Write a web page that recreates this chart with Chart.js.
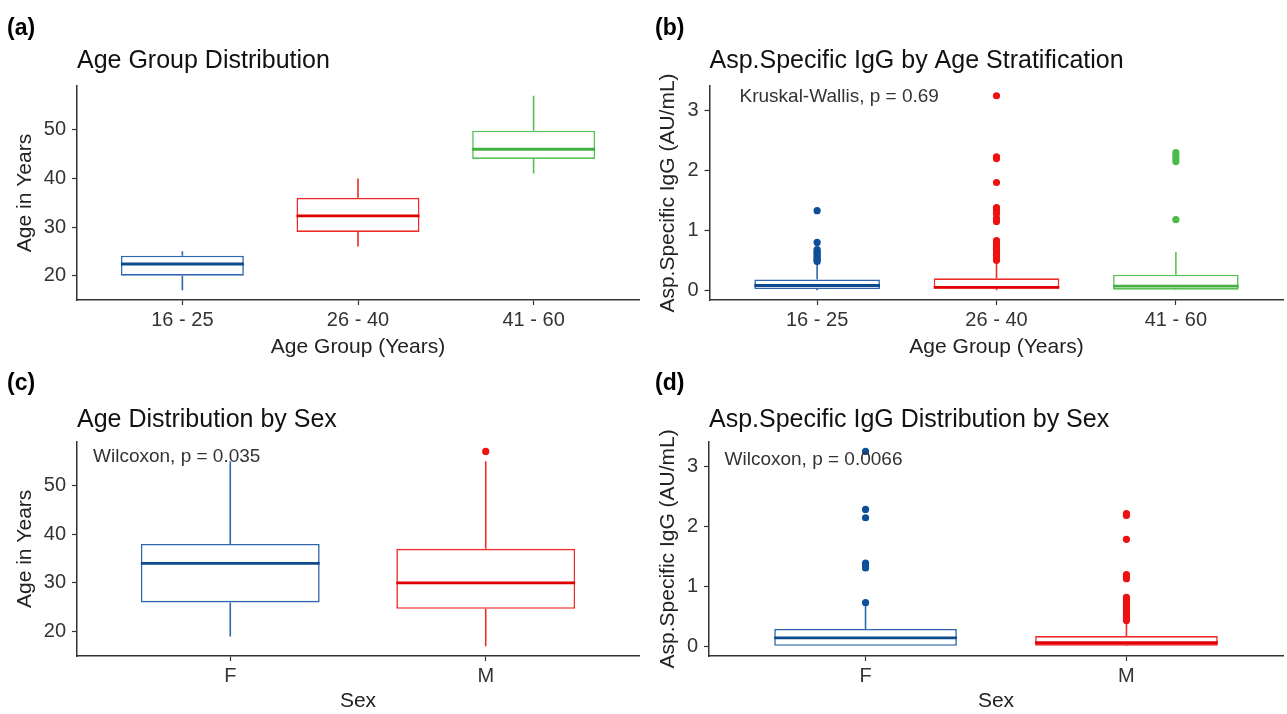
<!DOCTYPE html>
<html><head><meta charset="utf-8">
<script src="https://cdn.jsdelivr.net/npm/chart.js@4.4.1/dist/chart.umd.min.js"></script>
<style>
html,body{margin:0;padding:0;background:#fff;}
body{width:1287px;height:714px;position:relative;overflow:hidden;}
canvas{position:absolute;}
</style></head><body>
<canvas id="ca" width="643" height="360" style="left:0;top:0"></canvas>
<canvas id="cb" width="644" height="360" style="left:643px;top:0"></canvas>
<canvas id="cc" width="643" height="354" style="left:0;top:360px"></canvas>
<canvas id="cd" width="644" height="354" style="left:643px;top:360px"></canvas>
<script>
// ---------- DATA ----------
const ageGroups = ['16 - 25', '26 - 40', '41 - 60'];
const sexes = ['F', 'M'];
const ageTicks = [20, 30, 40, 50];
const iggTicks = [0, 1, 2, 3];

// (a) Age by age group
const ageGrpMin    = [17, 26, 41];
const ageGrpQ1     = [20, 29, 44];
const ageGrpMedian = [22.4, 32.3, 46];
const ageGrpQ3     = [24.1, 36, 49.8];
const ageGrpMax    = [25, 40, 57];
const ageGrpOutliers = [[], [], []];

// (b) IgG by age group
const iggGrpMin    = [0, 0, 0];
const iggGrpQ1     = [0.02, 0.03, 0.01];
const iggGrpMedian = [0.08, 0.05, 0.07];
const iggGrpQ3     = [0.18, 0.20, 0.26];
const iggGrpMax    = [0.43, 0.45, 0.64];
const iggGrpOut1625 = [1.33, 0.80, 0.68, 0.65, 0.62, 0.59, 0.56, 0.53, 0.50, 0.48];
const iggGrpOut2640 = [3.25, 2.23, 2.20, 1.80, 1.38, 1.33, 1.28, 1.20, 1.15, 0.83, 0.79, 0.75, 0.70, 0.66, 0.62, 0.58, 0.54, 0.50];
const iggGrpOut4160 = [2.30, 2.26, 2.20, 2.15, 1.18];

// (c) Age by sex
const ageSexMin    = [19, 17];
const ageSexQ1     = [26, 24.7];
const ageSexMedian = [34, 30];
const ageSexQ3     = [38, 37];
const ageSexMax    = [55, 55];
const ageSexOutF = [];
const ageSexOutM = [57];

// (d) IgG by sex
const iggSexMin    = [0, 0];
const iggSexQ1     = [0, 0.01];
const iggSexMedian = [0.14, 0.06];
const iggSexQ3     = [0.29, 0.17];
const iggSexMax    = [0.72, 0.41];
const iggSexOutF = [3.26, 2.29, 2.15, 1.39, 1.35, 1.31, 0.73];
const iggSexOutM = [2.22, 2.19, 1.79, 1.20, 1.16, 1.13, 0.82, 0.78, 0.74, 0.70, 0.66, 0.62, 0.58, 0.54, 0.50, 0.46, 0.43];

// ---------- STYLE ----------
const FONT = "'Liberation Sans', Arial, Helvetica, sans-serif";
Chart.defaults.font.family = FONT;
const BLUE  = {box: '#2e66ad', med: '#0d4a8e', pt: '#0d4f98'};
const RED   = {box: '#ee2a2a', med: '#e00000', pt: '#ee1111'};
const GREEN = {box: '#57c054', med: '#43b043', pt: '#4cbb4a'};
const BOX_W = 0.7;

const panelText = {
  id: 'panelText',
  afterDraw(chart, args, o) {
    const ctx = chart.ctx;
    ctx.save();
    ctx.textBaseline = 'middle';
    ctx.textAlign = 'left';
    ctx.fillStyle = '#000';
    ctx.font = 'bold 23px ' + FONT;
    ctx.fillText(o.label, o.labelX, o.labelY);
    if (o.note) {
      ctx.font = '19px ' + FONT;
      ctx.fillStyle = '#333';
      ctx.fillText(o.note, chart.chartArea.left + o.noteDX, chart.chartArea.top + o.noteDY);
    }
    ctx.restore();
  }
};

function boxDatasets(n, s, colors) {
  const ds = [];
  const idx = [...Array(n).keys()];
  ds.push({
    type: 'bar',
    data: idx.map(i => ({x: i, y: [s.q1[i], s.q3[i]]})),
    backgroundColor: '#ffffff',
    borderColor: colors.map(c => c.box),
    borderWidth: 1.6,
    borderSkipped: false,
    categoryPercentage: 1,
    barPercentage: BOX_W,
    order: 4
  });
  idx.forEach(i => {
    ds.push({
      type: 'line',
      data: [{x: i, y: s.q3[i]}, {x: i, y: s.max[i]}, {x: i, y: null}, {x: i, y: s.q1[i]}, {x: i, y: s.min[i]}],
      borderColor: colors[i].box, borderWidth: 1.6, pointRadius: 0, spanGaps: false, tension: 0, order: 3
    });
    ds.push({
      type: 'line',
      data: [{x: i - BOX_W / 2, y: s.med[i]}, {x: i + BOX_W / 2, y: s.med[i]}],
      borderColor: colors[i].med, borderWidth: 2.8, pointRadius: 0, tension: 0, order: 2
    });
    if (s.out[i].length) {
      ds.push({
        type: 'scatter',
        data: s.out[i].map(v => ({x: i, y: v})),
        backgroundColor: colors[i].pt, borderWidth: 0, pointRadius: 3.6, order: 1
      });
    }
  });
  return ds;
}

function makePanel(p) {
  const n = p.cats.length;
  const xTickVals = [...Array(n).keys()];
  new Chart(document.getElementById(p.id), {
    type: 'bar',
    data: {datasets: boxDatasets(n, p.stats, p.colors)},
    plugins: [panelText],
    options: {
      responsive: false,
      devicePixelRatio: 1,
      animation: false,
      events: [],
      layout: {autoPadding: false, padding: {left: 0, top: 0, bottom: 0, right: p.padRight}},
      plugins: {
        legend: {display: false},
        tooltip: {enabled: false},
        title: {
          display: true, text: p.title, align: 'start', fullSize: false,
          color: '#111', font: {size: 25, weight: 'normal'},
          padding: {top: p.titleTop, bottom: p.titleBottom}
        },
        panelText: {label: p.label, labelX: p.labelX, labelY: p.labelY, note: p.note, noteDX: p.noteDX, noteDY: p.noteDY}
      },
      scales: {
        x: {
          type: 'linear', min: -0.6, max: n - 1 + 0.6, offset: false,
          afterBuildTicks: sc => { sc.ticks = xTickVals.map(v => ({value: v})); },
          afterFit: sc => { sc.height = p.xAxisH; },
          ticks: {callback: v => p.cats[v], color: '#333', font: {size: 20}, padding: 3, maxRotation: 0, autoSkip: false},
          grid: {display: true, drawOnChartArea: false, drawTicks: true, tickLength: 5, tickColor: '#333', tickWidth: 1.2, offset: false},
          border: {display: true, color: '#333', width: 1.5},
          title: {display: true, text: p.xTitle, color: '#222', font: {size: 21}, padding: {top: 0, bottom: 0}}
        },
        y: {
          type: 'linear', min: p.yMin, max: p.yMax,
          afterBuildTicks: sc => { sc.ticks = p.yTicks.map(v => ({value: v})); },
          afterFit: sc => { sc.width = p.yAxisW; },
          ticks: {callback: v => String(v), color: '#333', font: {size: 20}, padding: 6},
          grid: {display: true, drawOnChartArea: false, drawTicks: true, tickLength: 5, tickColor: '#333', tickWidth: 1.2},
          border: {display: true, color: '#333', width: 1.5},
          title: {display: true, text: p.yTitle, color: '#222', font: {size: 21}, padding: {top: 12.5, bottom: 0}}
        }
      }
    }
  });
}

makePanel({
  id: 'ca', cats: ageGroups, colors: [BLUE, RED, GREEN],
  stats: {min: ageGrpMin, q1: ageGrpQ1, med: ageGrpMedian, q3: ageGrpQ3, max: ageGrpMax, out: ageGrpOutliers},
  title: 'Age Group Distribution', xTitle: 'Age Group (Years)', yTitle: 'Age in Years',
  yMin: 15, yMax: 59, yTicks: ageTicks,
  yAxisW: 77, xAxisH: 60, padRight: 4, titleTop: 46, titleBottom: 10,
  label: '(a)', labelX: 7, labelY: 29, note: null
});
makePanel({
  id: 'cb', cats: ageGroups, colors: [BLUE, RED, GREEN],
  stats: {min: iggGrpMin, q1: iggGrpQ1, med: iggGrpMedian, q3: iggGrpQ3, max: iggGrpMax, out: [iggGrpOut1625, iggGrpOut2640, iggGrpOut4160]},
  title: 'Asp.Specific IgG by Age Stratification', xTitle: 'Age Group (Years)', yTitle: 'Asp.Specific IgG (AU/mL)',
  yMin: -0.1625, yMax: 3.4125, yTicks: iggTicks,
  yAxisW: 66.5, xAxisH: 60, padRight: 3.5, titleTop: 46, titleBottom: 10,
  label: '(b)', labelX: 12, labelY: 29, note: 'Kruskal-Wallis, p = 0.69', noteDX: 30, noteDY: 11
});
makePanel({
  id: 'cc', cats: sexes, colors: [BLUE, RED],
  stats: {min: ageSexMin, q1: ageSexQ1, med: ageSexMedian, q3: ageSexQ3, max: ageSexMax, out: [ageSexOutF, ageSexOutM]},
  title: 'Age Distribution by Sex', xTitle: 'Sex', yTitle: 'Age in Years',
  yMin: 15, yMax: 59, yTicks: ageTicks,
  yAxisW: 77, xAxisH: 58, padRight: 4, titleTop: 45, titleBottom: 6.7,
  label: '(c)', labelX: 7, labelY: 24, note: 'Wilcoxon, p = 0.035', noteDX: 16, noteDY: 15.5
});
makePanel({
  id: 'cd', cats: sexes, colors: [BLUE, RED],
  stats: {min: iggSexMin, q1: iggSexQ1, med: iggSexMedian, q3: iggSexQ3, max: iggSexMax, out: [iggSexOutF, iggSexOutM]},
  title: 'Asp.Specific IgG Distribution by Sex', xTitle: 'Sex', yTitle: 'Asp.Specific IgG (AU/mL)',
  yMin: -0.163, yMax: 3.423, yTicks: iggTicks,
  yAxisW: 66, xAxisH: 58, padRight: 4, titleTop: 45, titleBottom: 6.7,
  label: '(d)', labelX: 12, labelY: 24, note: 'Wilcoxon, p = 0.0066', noteDX: 15.5, noteDY: 18.5
});
</script>
</body></html>
